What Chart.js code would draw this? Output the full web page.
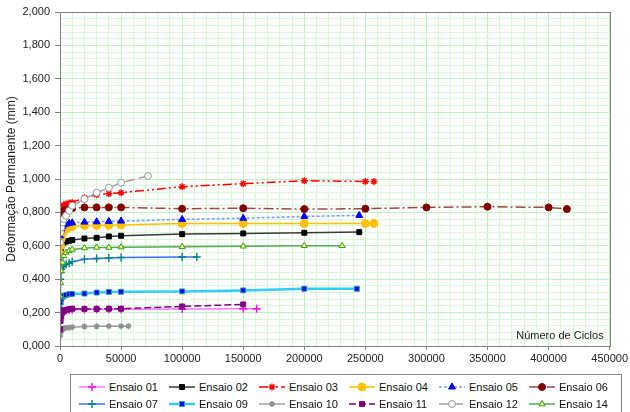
<!DOCTYPE html>
<html lang="pt">
<head>
<meta charset="utf-8">
<title>Deformação Permanente x Número de Ciclos</title>
<script src="https://cdn.jsdelivr.net/npm/chart.js@4.4.1/dist/chart.umd.min.js"></script>
<style>
  html, body { margin: 0; padding: 0; background: #fff; }
  body { width: 630px; height: 412px; overflow: hidden; position: relative; font-family: "Liberation Sans", Arial, sans-serif; }
  #wrap { position: absolute; left: 0; top: 0; width: 630px; height: 372px; }
  #legend {
    position: absolute; left: 70px; top: 374px; width: 552px; height: 44px;
    border: 1px solid #808080; box-sizing: border-box;
    display: grid; grid-template-columns: repeat(6, 90px); grid-auto-rows: 17px;
    padding: 3px 0 0 8px;
  }
  .item { display: flex; align-items: center; font-size: 11px; color: #111; white-space: nowrap; }
  .item canvas { width: 26px; height: 12px; margin-right: 4px; }
</style>
</head>
<body>
<div id="wrap"><canvas id="grafico" width="630" height="372"></canvas></div>
<div id="legend"></div>

<script>
// dados (ciclos x deformação permanente em mm)
const ciclosBase = [100, 500, 1000, 2000, 3000, 5000, 7500, 10000, 20000, 30000, 40000, 50000];

const ciclos01 = [...ciclosBase, 100000, 150000, 161000];
const def01 = [0.17, 0.19, 0.20, 0.205, 0.21, 0.212, 0.215, 0.217, 0.218, 0.220, 0.220, 0.220, 0.222, 0.223, 0.223];

const ciclos02 = [...ciclosBase, 100000, 150000, 200000, 245000];
const def02 = [0.50, 0.56, 0.59, 0.61, 0.62, 0.625, 0.630, 0.635, 0.644, 0.648, 0.656, 0.660, 0.670, 0.674, 0.678, 0.682];

const ciclos03 = [...ciclosBase, 100000, 150000, 200000, 250000, 257000];
const def03 = [0.76, 0.80, 0.82, 0.835, 0.845, 0.850, 0.855, 0.860, 0.888, 0.905, 0.912, 0.918, 0.954, 0.972, 0.990, 0.985, 0.985];

const ciclos04 = [...ciclosBase, 100000, 150000, 200000, 250000, 257000];
const def04 = [0.55, 0.60, 0.64, 0.67, 0.69, 0.700, 0.710, 0.715, 0.722, 0.722, 0.723, 0.724, 0.734, 0.734, 0.734, 0.734, 0.734];

const ciclos05 = [...ciclosBase, 100000, 150000, 200000, 245000];
const def05 = [0.66, 0.69, 0.70, 0.715, 0.725, 0.730, 0.735, 0.738, 0.742, 0.744, 0.746, 0.748, 0.758, 0.765, 0.776, 0.782];

const ciclos06 = [...ciclosBase, 100000, 150000, 200000, 250000, 300000, 350000, 400000, 415000];
const def06 = [0.72, 0.76, 0.78, 0.80, 0.81, 0.815, 0.820, 0.825, 0.830, 0.830, 0.830, 0.830, 0.822, 0.825, 0.820, 0.822, 0.830, 0.834, 0.830, 0.820];

const ciclos07 = [...ciclosBase, 100000, 112000];
const def07 = [0.40, 0.44, 0.46, 0.475, 0.485, 0.490, 0.495, 0.505, 0.520, 0.524, 0.527, 0.530, 0.533, 0.533];

const ciclos09 = [...ciclosBase, 100000, 150000, 200000, 243000];
const def09 = [0.22, 0.26, 0.28, 0.295, 0.300, 0.305, 0.310, 0.312, 0.314, 0.320, 0.324, 0.325, 0.327, 0.333, 0.343, 0.343];

const ciclos10 = [...ciclosBase, 56000];
const def10 = [0.06, 0.08, 0.09, 0.100, 0.105, 0.108, 0.110, 0.113, 0.117, 0.118, 0.119, 0.119, 0.119];

const ciclos11 = [...ciclosBase, 100000, 150000];
const def11 = [0.10, 0.15, 0.18, 0.200, 0.210, 0.215, 0.220, 0.223, 0.222, 0.222, 0.223, 0.223, 0.237, 0.249];

const ciclos12 = [...ciclosBase, 72000];
const def12 = [0.62, 0.68, 0.71, 0.74, 0.76, 0.78, 0.81, 0.84, 0.880, 0.918, 0.948, 0.978, 1.018];

const ciclos14 = [...ciclosBase, 100000, 150000, 200000, 231000];
const def14 = [0.30, 0.38, 0.45, 0.50, 0.54, 0.56, 0.570, 0.578, 0.587, 0.590, 0.590, 0.592, 0.594, 0.597, 0.600, 0.600];

const xTicks = [0, 50000, 100000, 150000, 200000, 250000, 300000, 350000, 400000, 450000];

// estilos de cada ensaio
const series = [
  { label: "Ensaio 01", x: ciclos01, y: def01, line: "#ff77ff", dash: [], point: "cross", fill: "#ff00ff", edge: "#ff00ff", r: 4 },
  { label: "Ensaio 02", x: ciclos02, y: def02, line: "#3a3a3a", dash: [], point: "rect", fill: "#000000", edge: "#000000", r: 3.5 },
  { label: "Ensaio 03", x: ciclos03, y: def03, line: "#ff0000", dash: [9, 3, 2, 3, 2, 3], point: "star", fill: "#ff0000", edge: "#ff0000", r: 3.5 },
  { label: "Ensaio 04", x: ciclos04, y: def04, line: "#ffc000", dash: [], point: "circle", fill: "#ffc000", edge: "#ffc000", r: 4 },
  { label: "Ensaio 05", x: ciclos05, y: def05, line: "#7799ff", dash: [3, 2], point: "triangle", fill: "#0000ff", edge: "#0000ff", r: 4 },
  { label: "Ensaio 06", x: ciclos06, y: def06, line: "#a04848", dash: [10, 3, 2, 3], point: "circle", fill: "#800000", edge: "#800000", r: 3.5 },
  { label: "Ensaio 07", x: ciclos07, y: def07, line: "#3a6cff", dash: [], point: "cross", fill: "#008080", edge: "#008080", r: 4 },
  { label: "Ensaio 09", x: ciclos09, y: def09, line: "#33ccff", dash: [], point: "rect", fill: "#0000ee", edge: "#3399aa", r: 3.5, w: 2.5 },
  { label: "Ensaio 10", x: ciclos10, y: def10, line: "#a0a0a0", dash: [], point: "star", fill: "#909090", edge: "#909090", r: 3 },
  { label: "Ensaio 11", x: ciclos11, y: def11, line: "#800080", dash: [7, 3], point: "rect", fill: "#800080", edge: "#800080", r: 3.5 },
  { label: "Ensaio 12", x: ciclos12, y: def12, line: "#a0a0a0", dash: [10, 4], point: "circle", fill: "#ffffff", edge: "#999999", r: 3.5 },
  { label: "Ensaio 14", x: ciclos14, y: def14, line: "#55aa55", dash: [], point: "triangle", fill: "#ffff66", edge: "#339933", r: 3.5 },
];

const isMajor = (v, step) => Math.abs(v / step - Math.round(v / step)) < 1e-6;

const datasets = series.map((s, i) => ({
  label: s.label,
  data: s.x.map((c, k) => ({ x: c, y: s.y[k] })),
  showLine: true,
  borderColor: s.line,
  borderWidth: s.w || 1.5,
  borderDash: s.dash,
  pointStyle: s.point,
  pointRadius: s.r,
  pointBackgroundColor: s.fill,
  pointBorderColor: s.edge,
  pointBorderWidth: s.point === "cross" || s.point === "star" ? 1.4 : 1,
  tension: 0,
  order: 50 - i,
}));

const molduraPlugin = {
  id: "moldura",
  afterDraw(chart) {
    const { ctx, chartArea: a } = chart;
    ctx.save();
    ctx.strokeStyle = "#808080";
    ctx.lineWidth = 1;
    ctx.strokeRect(Math.round(a.left) + 0.5, Math.round(a.top) + 0.5, Math.round(a.right - a.left), Math.round(a.bottom - a.top));
    ctx.fillStyle = "#222";
    ctx.font = '11px "Liberation Sans", Arial, sans-serif';
    ctx.textAlign = "right";
    ctx.textBaseline = "middle";
    ctx.fillText("Número de Ciclos", a.right - 6, a.bottom - 10);
    ctx.restore();
  },
};

const fonte = { family: '"Liberation Sans", Arial, sans-serif', size: 11 };

new Chart(document.getElementById("grafico"), {
  type: "scatter",
  data: { datasets },
  options: {
    responsive: false,
    animation: false,
    layout: { padding: { left: 0, top: 12, right: 20, bottom: 0 } },
    plugins: { legend: { display: false }, tooltip: { enabled: false } },
    scales: {
      x: {
        type: "linear",
        min: 0,
        max: 450000,
        afterFit: (scale) => { scale.height = 26; },
        border: { color: "#808080", width: 1 },
        grid: {
          color: (c) => (c.tick && xTicks.includes(c.tick.value) ? "#c2f2c2" : "#d8f8d8"),
          tickLength: 4,
          tickColor: (c) => (c.tick && xTicks.includes(c.tick.value) ? "#808080" : "rgba(0,0,0,0)"),
        },
        ticks: {
          stepSize: 10000,
          autoSkip: false,
          maxRotation: 0,
          padding: 2,
          color: "#222",
          font: fonte,
          callback: (v) => (xTicks.includes(v) ? String(v) : ""),
        },
      },
      y: {
        min: 0,
        max: 2,
        afterFit: (scale) => { scale.width = 60; },
        border: { color: "#808080", width: 1 },
        title: { display: true, text: "Deformação Permanente (mm)", color: "#222", font: { ...fonte, size: 12 }, padding: { top: 4, bottom: 0 } },
        grid: {
          color: (c) => (c.tick && isMajor(c.tick.value, 0.2) ? "#c2f2c2" : "#d8f8d8"),
          tickLength: 5,
          tickColor: (c) => (c.tick && isMajor(c.tick.value, 0.2) ? "#808080" : "rgba(0,0,0,0)"),
        },
        ticks: {
          stepSize: 0.04,
          autoSkip: false,
          padding: 5,
          color: "#222",
          font: fonte,
          callback: (v) => (isMajor(v, 0.2) ? Number(v).toFixed(3).replace(".", ",") : ""),
        },
      },
    },
  },
  plugins: [molduraPlugin],
});

// legenda em HTML com o símbolo de cada ensaio
const legendEl = document.getElementById("legend");
series.forEach((s) => {
  const item = document.createElement("div");
  item.className = "item";
  const c = document.createElement("canvas");
  c.width = 26;
  c.height = 12;
  const g = c.getContext("2d");
  g.strokeStyle = s.line;
  g.lineWidth = s.w || 1.5;
  g.setLineDash(s.dash);
  g.beginPath();
  g.moveTo(0, 6);
  g.lineTo(26, 6);
  g.stroke();
  g.setLineDash([]);
  g.fillStyle = s.fill;
  g.strokeStyle = s.edge;
  g.lineWidth = s.point === "cross" || s.point === "star" ? 1.4 : 1;
  if (Chart.helpers && Chart.helpers.drawPoint) {
    Chart.helpers.drawPoint(g, { pointStyle: s.point, radius: s.r, rotation: 0, borderWidth: g.lineWidth }, 13, 6);
  } else {
    g.fillRect(10, 3, 6, 6);
  }
  const t = document.createElement("span");
  t.textContent = s.label;
  item.appendChild(c);
  item.appendChild(t);
  legendEl.appendChild(item);
});
</script>
</body>
</html>
